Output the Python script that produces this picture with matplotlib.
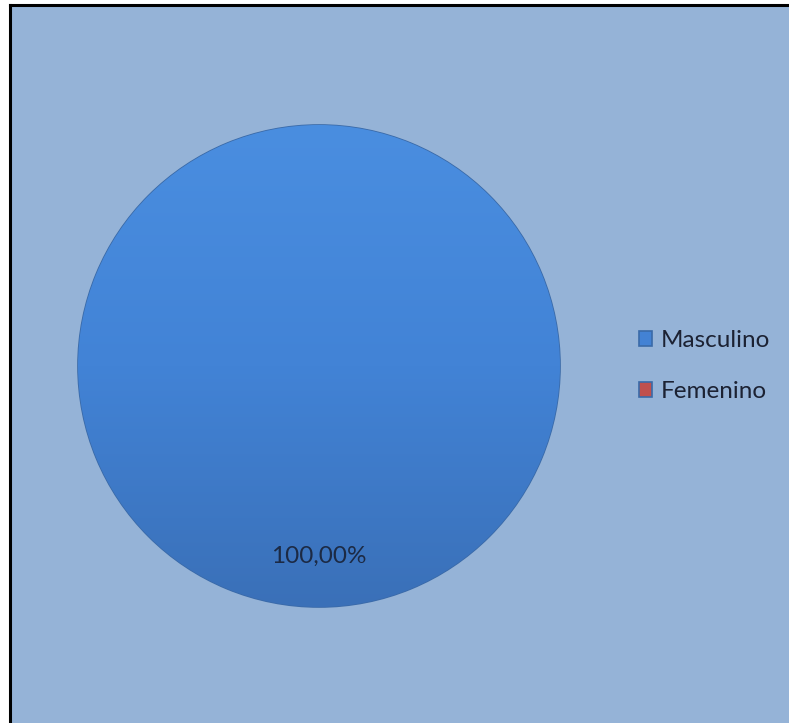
import numpy as np
import matplotlib
matplotlib.use("Agg")
import matplotlib.pyplot as plt
from matplotlib.colors import LinearSegmentedColormap

categories = ["Masculino", "Femenino"]
values = [100.0, 0.0]
colors = ["#4382d4", "#c0504d"]

W, H = 789, 723
fig = plt.figure(figsize=(W / 100, H / 100), dpi=100)
fig.patch.set_facecolor("white")

# background panel
bg = fig.add_axes([10 / W, 0, 1 - 10 / W, 1 - 5 / H])
bg.set_facecolor("#95b3d7")
bg.set_xticks([]); bg.set_yticks([])
for s in ["right", "bottom"]:
    bg.spines[s].set_visible(False)
for s in ["left", "top"]:
    bg.spines[s].set_linewidth(2.2)
    bg.spines[s].set_color("black")

# pie axes
cx, cy, r = 319, 366, 241
ax = fig.add_axes([(cx - r) / W, (H - cy - r) / H, 2 * r / W, 2 * r / H])
ax.set_facecolor("none")
wedges, texts, autotexts = ax.pie(
    values, colors=colors, startangle=90, counterclock=False,
    autopct=lambda p: f"{p:.2f}%".replace(".", ",") if p > 0 else "",
    pctdistance=0.79, radius=1.0,
    wedgeprops=dict(edgecolor="#3a6aa8", linewidth=1.2),
    textprops=dict(fontsize=17.5, color="#1c2a44", family=["Lato", "DejaVu Sans"]))
ax.set_xlim(-1, 1); ax.set_ylim(-1, 1)
ax.set_aspect("equal")
ax.axis("off")

# gradient shading clipped to main wedge (light at top, darker at bottom)
grad = np.linspace(0, 1, 256).reshape(-1, 1)
cmap = LinearSegmentedColormap.from_list("g", ["#4a8ee0", "#4283d6", "#3a70b8"])
im = ax.imshow(grad, extent=[-1, 1, -1, 1], origin="upper", cmap=cmap,
               zorder=1.5, aspect="auto")
im.set_clip_path(wedges[0])
ax.set_xlim(-1, 1); ax.set_ylim(-1, 1)
for t in autotexts:
    t.set_zorder(5)

leg = fig.legend(wedges, categories, loc="center left",
                 bbox_to_anchor=(639 / W, (H - 366) / H),
                 frameon=False, handlelength=0.55, handleheight=0.55,
                 handletextpad=0.35, labelspacing=1.25,
                 borderaxespad=0, borderpad=0,
                 prop=dict(family=["Lato", "DejaVu Sans"], size=17.5))
for t in leg.get_texts():
    t.set_color("#1c2233")

fig.savefig("out.png", dpi=100, facecolor=fig.get_facecolor())
